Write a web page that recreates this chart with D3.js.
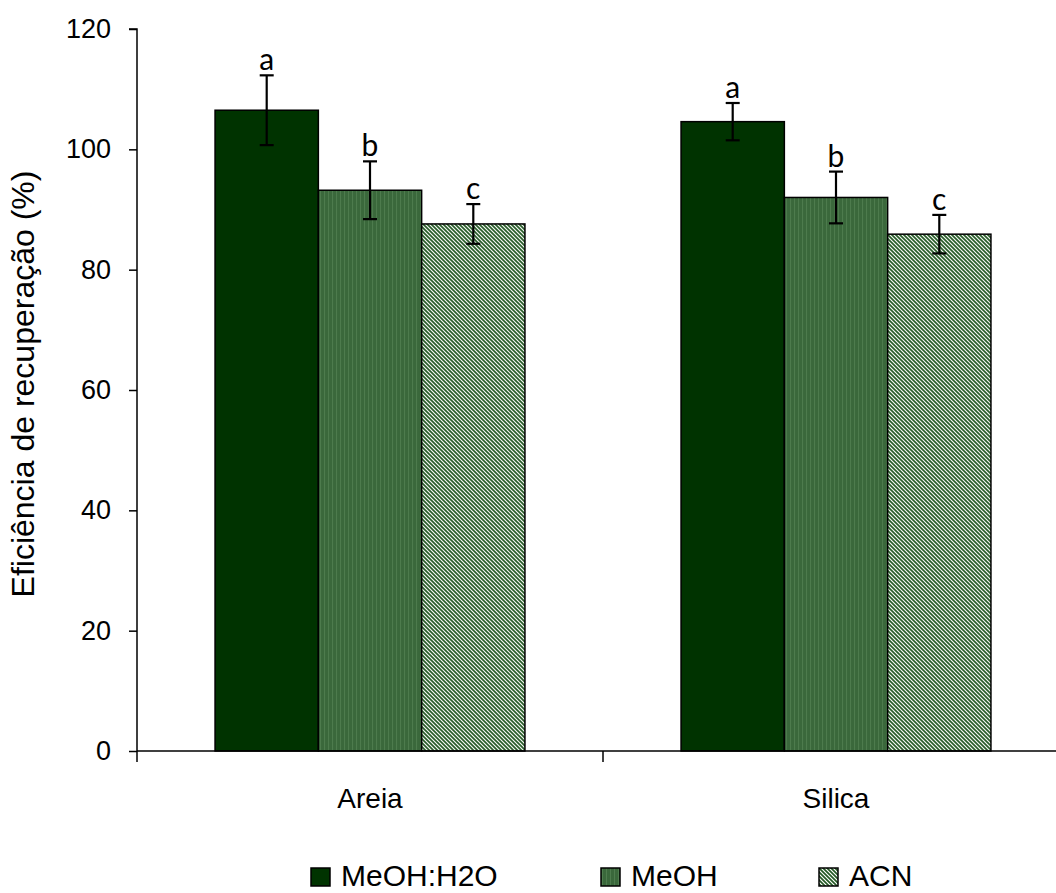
<!DOCTYPE html>
<html>
<head>
<meta charset="utf-8">
<script src="https://cdn.jsdelivr.net/npm/d3@7"></script>
<style>
  body { margin: 0; background: #fff; }
  text { font-family: "Liberation Sans", Arial, sans-serif; }
</style>
</head>
<body>
<div id="chart"></div>
<script>
// data
const categories = ["Areia", "Silica"];
const series = ["MeOH:H2O", "MeOH", "ACN"];
const meanValues = [
  [106.5, 93.2, 87.6],
  [104.6, 92.0, 85.9]
];
const errValues = [
  [5.8, 4.8, 3.3],
  [3.1, 4.3, 3.2]
];
const letters = ["a", "b", "c"];
const yTicks = [0, 20, 40, 60, 80, 100, 120];

const width = 1056, height = 893;
const svg = d3.select("#chart").append("svg")
  .attr("width", width)
  .attr("height", height);

// patterns for the three fills
const defs = svg.append("defs");
let pv = defs.append("pattern")
  .attr("id", "pat-meoh")
  .attr("patternUnits", "userSpaceOnUse")
  .attr("width", 4).attr("height", 4);
pv.append("rect").attr("width", 4).attr("height", 4).attr("fill", "#3a683b");
pv.append("rect").attr("x", 1).attr("width", 1).attr("height", 4).attr("fill", "#4e7c4e");

let pd = defs.append("pattern")
  .attr("id", "pat-acn")
  .attr("patternUnits", "userSpaceOnUse")
  .attr("width", 4).attr("height", 4);
pd.append("rect").attr("width", 4).attr("height", 4).attr("fill", "#ffffff");
pd.append("path")
  .attr("d", "M-1,-1 L5,5 M-1,3 L1,5 M3,-1 L5,1")
  .attr("stroke", "#245a25")
  .attr("stroke-width", 1.7);

const fills = ["#003300", "url(#pat-meoh)", "url(#pat-acn)"];

const mLeft = 137, mRight = 1069, mTop = 29, mBottom = 751;

const y = d3.scaleLinear().domain([0, 120]).range([mBottom, mTop]);

const x = d3.scaleBand()
  .domain(categories)
  .range([mLeft, mRight])
  .paddingInner(0.335)
  .paddingOuter(0.1675);

const xs = d3.scaleBand()
  .domain(series)
  .range([0, x.bandwidth()]);

// y axis
const yAxis = svg.append("g")
  .attr("transform", `translate(${mLeft},0)`)
  .call(d3.axisLeft(y).tickValues(yTicks).tickSize(8).tickPadding(18));
yAxis.select(".domain").attr("stroke", "#000").attr("stroke-width", 1.5)
  .attr("d", `M-8,${mTop}H0V${mBottom}`);
yAxis.selectAll(".tick line").attr("stroke", "#000").attr("stroke-width", 1.5);
yAxis.selectAll(".tick text")
  .style("font-family", "'Liberation Sans', Arial, sans-serif")
  .style("font-size", "27px").attr("fill", "#000");

// bars
const groups = svg.selectAll("g.cat")
  .data(categories)
  .enter().append("g")
  .attr("class", "cat")
  .attr("transform", d => `translate(${x(d)},0)`);

groups.each(function(cat, ci) {
  const g = d3.select(this);
  series.forEach((s, si) => {
    const v = meanValues[ci][si];
    const e = errValues[ci][si];
    const bx = xs(s);
    const cx = bx + xs.bandwidth() / 2;
    g.append("rect")
      .attr("x", bx)
      .attr("y", y(v))
      .attr("width", xs.bandwidth())
      .attr("height", y(0) - y(v))
      .attr("fill", fills[si])
      .attr("stroke", "#000")
      .attr("stroke-width", 1.5);
    // error bar
    g.append("line")
      .attr("x1", cx).attr("x2", cx)
      .attr("y1", y(v + e)).attr("y2", y(v - e))
      .attr("stroke", "#000").attr("stroke-width", 2.2);
    [v + e, v - e].forEach(t => {
      g.append("line")
        .attr("x1", cx - 7).attr("x2", cx + 7)
        .attr("y1", y(t)).attr("y2", y(t))
        .attr("stroke", "#000").attr("stroke-width", 2.2);
    });
    g.append("text")
      .attr("x", cx)
      .attr("y", y(v + e) - 5)
      .attr("text-anchor", "middle")
      .style("font-family", "Lato, 'Open Sans', sans-serif")
      .style("font-size", "30px")
      .text(letters[si]);
  });
});

// x axis
const step = x.step();
const xa = svg.append("g");
xa.append("line")
  .attr("x1", mLeft).attr("x2", width)
  .attr("y1", mBottom).attr("y2", mBottom)
  .attr("stroke", "#000").attr("stroke-width", 1.5);
const boundaries = categories.map(c => x(c) - step * x.paddingInner() / 2);
xa.selectAll("line.tk")
  .data(boundaries)
  .enter().append("line")
  .attr("class", "tk")
  .attr("x1", d => d).attr("x2", d => d)
  .attr("y1", mBottom).attr("y2", mBottom + 11)
  .attr("stroke", "#000").attr("stroke-width", 1.5);
xa.selectAll("text")
  .data(categories)
  .enter().append("text")
  .attr("x", d => x(d) + x.bandwidth() / 2)
  .attr("y", 808)
  .attr("text-anchor", "middle")
  .style("font-size", "28px")
  .text(d => d);

// y title
svg.append("text")
  .attr("transform", `translate(34,${(mTop + mBottom) / 2 - 6}) rotate(-90)`)
  .attr("text-anchor", "middle")
  .style("font-size", "32px")
  .text("Eficiência de recuperação (%)");

// legend
const legendX = [311, 601, 819];
const lg = svg.selectAll("g.leg")
  .data(series)
  .enter().append("g")
  .attr("class", "leg")
  .attr("transform", (d, i) => `translate(${legendX[i]},868)`);
lg.append("rect")
  .attr("width", 19).attr("height", 18)
  .attr("fill", (d, i) => fills[i])
  .attr("stroke", "#000").attr("stroke-width", 1.5);
lg.append("text")
  .attr("x", 30).attr("y", 18)
  .style("font-size", "30px")
  .text(d => d);
</script>
</body>
</html>
